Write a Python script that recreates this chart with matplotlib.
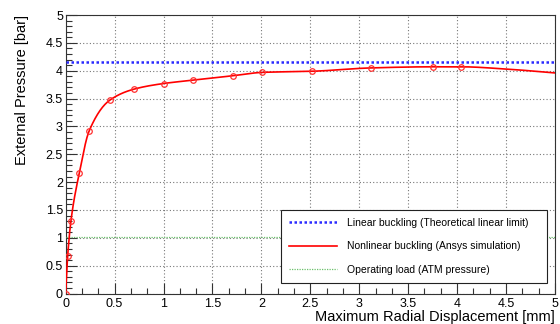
import numpy as np
import matplotlib
matplotlib.use("Agg")
import matplotlib.pyplot as plt
from matplotlib.ticker import MultipleLocator

# ---- data ----
disp = [0.0, 0.02, 0.054, 0.14, 0.24, 0.45, 0.70, 1.00, 1.30, 1.71, 2.01, 2.52, 3.12, 3.75, 4.04]
pres = [0.0, 0.67, 1.31, 2.17, 2.92, 3.47, 3.67, 3.77, 3.83, 3.91, 3.97, 3.99, 4.05, 4.07, 4.07]
disp_tail = [4.5, 5.0]
pres_tail = [4.03, 3.96]
linear_limit = 4.16
atm_pressure = 1.013
labels = ["Linear buckling (Theoretical linear limit)",
          "Nonlinear buckling (Ansys simulation)",
          "Operating load (ATM pressure)"]


def pchip(x, y, xn):
    x = np.asarray(x, float); y = np.asarray(y, float)
    h = np.diff(x); d = np.diff(y) / h
    n = len(x)
    m = np.zeros(n)
    for k in range(1, n - 1):
        if d[k - 1] * d[k] <= 0:
            m[k] = 0
        else:
            w1 = 2 * h[k] + h[k - 1]; w2 = h[k] + 2 * h[k - 1]
            m[k] = (w1 + w2) / (w1 / d[k - 1] + w2 / d[k])
    m[0] = d[0]; m[-1] = d[-1]
    idx = np.clip(np.searchsorted(x, xn) - 1, 0, n - 2)
    t = (xn - x[idx]) / h[idx]
    h00 = 2 * t**3 - 3 * t**2 + 1; h10 = t**3 - 2 * t**2 + t
    h01 = -2 * t**3 + 3 * t**2; h11 = t**3 - t**2
    return h00 * y[idx] + h10 * h[idx] * m[idx] + h01 * y[idx + 1] + h11 * h[idx] * m[idx + 1]


plt.rcParams['font.family'] = ['Liberation Sans', 'DejaVu Sans']
fig = plt.figure(figsize=(5.6, 3.24), dpi=100)
ax = fig.add_axes([0.1173, 0.0941, 0.8737, 0.8596])

xa = disp + disp_tail
ya = pres + pres_tail
xs = np.linspace(0, xa[-1], 600)
ys = pchip(xa, ya, xs)

l1, = ax.plot([0, 5], [linear_limit, linear_limit], color='#2a2aff', lw=1.8,
              linestyle=(0, (1, 1)), zorder=3)
l2, = ax.plot(xs, ys, color='#ff0000', lw=1.2, zorder=4)
ax.plot(disp, pres, linestyle='none', marker='o', ms=4, mfc='none', mec='#ff3030', mew=0.9, zorder=5)
l3, = ax.plot([0, 5], [atm_pressure, atm_pressure], color='#6cc06c', lw=0.9,
              linestyle=(0, (1, 1)), zorder=3)

ax.set_xlim(0, 5)
ax.set_ylim(0, 5)
ax.xaxis.set_major_locator(MultipleLocator(0.5))
ax.xaxis.set_minor_locator(MultipleLocator(0.5 / 3))
ax.yaxis.set_major_locator(MultipleLocator(0.5))
ax.yaxis.set_minor_locator(MultipleLocator(0.1))
ax.xaxis.set_major_formatter(matplotlib.ticker.FuncFormatter(lambda v, p: f"{v:g}"))
ax.yaxis.set_major_formatter(matplotlib.ticker.FuncFormatter(lambda v, p: f"{v:g}"))
ax.tick_params(which='both', direction='in', labelsize=9, color='#333333', width=0.8)
ax.tick_params(which='major', length=8)
ax.tick_params(which='minor', length=4)
ax.tick_params(axis='x', pad=3)
ax.tick_params(axis='y', pad=2)
ax.grid(True, which='major', color='#777777', linestyle=(0, (1, 2)), lw=0.8)
for s in ax.spines.values():
    s.set_color('#333333'); s.set_linewidth(0.8)

ax.set_xlabel("Maximum Radial Displacement [mm]", fontsize=10.5, loc='right')
ax.set_ylabel("External Pressure [bar]", fontsize=10.5, loc='top')
ax.xaxis.set_label_coords(1.0, -0.058)
ax.yaxis.set_label_coords(-0.074, 1.0)

leg = ax.legend([l1, l2, l3], labels, loc='upper left', bbox_to_anchor=(0.44, 0.045, 0.544, 0.255),
                mode='expand', fontsize=7.5, frameon=True, fancybox=False, framealpha=1,
                edgecolor='#222222', handlelength=4.6, handletextpad=1.0, labelspacing=1.3,
                borderpad=0.75, borderaxespad=0)
leg.get_frame().set_linewidth(0.8)
leg.set_zorder(10)

fig.savefig("out.png", dpi=100)
